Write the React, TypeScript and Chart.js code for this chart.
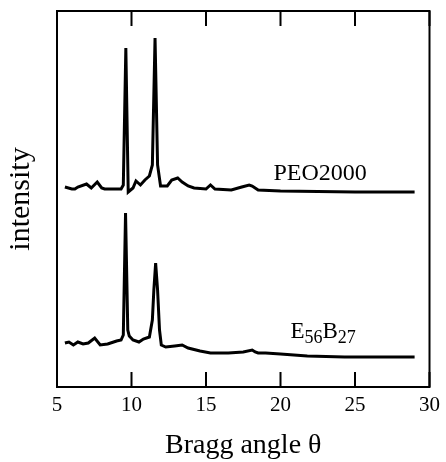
import React, { useEffect, useRef } from "react";
import { Chart, registerables } from "chart.js";

Chart.register(...registerables);

const xTicks = [5, 10, 15, 20, 25, 30];

const peoTheta = [5.53, 6.0, 6.2, 6.4, 6.98, 7.3, 7.7, 8.0, 8.2, 9.3, 9.45, 9.62, 9.78, 10.1, 10.3, 10.6, 10.9, 11.2, 11.4, 11.58, 11.75, 11.95, 12.4, 12.7, 13.1, 13.4, 13.8, 14.2, 15.0, 15.3, 15.6, 16.7, 17.4, 17.9, 18.1, 18.5, 20, 25, 29];
const peoIntensity = [200, 198, 198, 200, 203, 199, 205, 199, 198, 198, 202, 339, 195, 199, 206, 202, 207, 211, 222, 349, 222, 201, 201, 207, 209, 205, 201, 199, 198, 202, 198, 197, 200, 202, 201, 197, 196, 195, 195];

const ebTheta = [5.53, 5.8, 6.1, 6.4, 6.75, 7.1, 7.53, 7.9, 8.4, 9.0, 9.3, 9.45, 9.6, 9.75, 9.85, 10.1, 10.5, 10.8, 11.2, 11.4, 11.5, 11.62, 11.75, 11.88, 12.0, 12.3, 12.9, 13.4, 13.8, 14.6, 15.3, 16.5, 17.5, 18.1, 18.3, 18.5, 19.0, 20, 21.8, 24.3, 29];
const ebIntensity = [44, 45, 42, 45, 43, 44, 49, 42, 43, 46, 47, 52, 174, 57, 51, 47, 45, 48, 50, 67, 97, 124, 97, 57, 42, 40, 41, 42, 39, 36, 34, 34, 35, 37, 35, 34, 34, 33, 31, 30, 30];

const FONT = "'Liberation Serif', 'Times New Roman', serif";

const framePlugin = {
  id: "frame",
  afterDraw(chart: any) {
    const { ctx, chartArea: a, scales } = chart;
    const xs = scales.x;
    const ys = scales.y;
    ctx.save();
    ctx.strokeStyle = "#000";
    ctx.lineWidth = 2;
    ctx.strokeRect(a.left, a.top, a.right - a.left, a.bottom - a.top);
    ctx.beginPath();
    xTicks.forEach((v) => {
      const px = xs.getPixelForValue(v);
      ctx.moveTo(px, a.bottom);
      ctx.lineTo(px, a.bottom - 15);
      ctx.moveTo(px, a.top);
      ctx.lineTo(px, a.top + 15);
    });
    ctx.stroke();
    ctx.fillStyle = "#000";
    ctx.textBaseline = "alphabetic";
    ctx.textAlign = "left";
    ctx.font = `24px ${FONT}`;
    ctx.fillText("PEO2000", xs.getPixelForValue(19.53), ys.getPixelForValue(207));
    let x = xs.getPixelForValue(20.67);
    const y = ys.getPixelForValue(49);
    const parts: [string, boolean][] = [["E", false], ["56", true], ["B", false], ["27", true]];
    parts.forEach(([t, sub]) => {
      ctx.font = sub ? `18px ${FONT}` : `23px ${FONT}`;
      ctx.fillText(t, x, sub ? y + 5 : y);
      x += ctx.measureText(t).width;
    });
    ctx.restore();
  },
};

export default function App() {
  const ref = useRef<HTMLCanvasElement | null>(null);
  useEffect(() => {
    document.body.style.margin = "0";
    const toPts = (xs: number[], ys: number[]) => xs.map((v, i) => ({ x: v, y: ys[i] }));
    const chart = new Chart(ref.current as HTMLCanvasElement, {
      type: "line",
      data: {
        datasets: [
          {
            label: "PEO2000",
            data: toPts(peoTheta, peoIntensity),
            borderColor: "#000",
            borderWidth: 3,
            pointRadius: 0,
            tension: 0,
            fill: false,
          },
          {
            label: "E56B27",
            data: toPts(ebTheta, ebIntensity),
            borderColor: "#000",
            borderWidth: 3,
            pointRadius: 0,
            tension: 0,
            fill: false,
          },
        ],
      },
      options: {
        animation: false,
        responsive: false,
        layout: { padding: { top: 11, right: 15, left: 0, bottom: 0 } },
        plugins: { legend: { display: false }, tooltip: { enabled: false } },
        scales: {
          x: {
            type: "linear",
            min: 5,
            max: 30,
            afterBuildTicks: (s: any) => {
              s.ticks = xTicks.map((v) => ({ value: v }));
            },
            grid: { display: false, drawTicks: false },
            border: { display: false },
            ticks: {
              color: "#000",
              font: { family: FONT, size: 21 },
              padding: 6,
              maxRotation: 0,
            },
            title: {
              display: true,
              text: "Bragg angle θ",
              color: "#000",
              font: { family: FONT, size: 28 },
              padding: { top: 18, bottom: 0 },
            },
            afterFit: (s: any) => {
              s.height = 75;
            },
          },
          y: {
            type: "linear",
            min: 0,
            max: 376,
            grid: { display: false, drawTicks: false },
            border: { display: false },
            ticks: { display: false },
            title: {
              display: true,
              text: "intensity",
              color: "#000",
              font: { family: FONT, size: 30 },
              padding: { top: 3, bottom: 0 },
            },
            afterFit: (s: any) => {
              s.width = 57;
            },
          },
        },
      },
      plugins: [framePlugin],
    });
    return () => chart.destroy();
  }, []);
  return <canvas ref={ref} width={446} height={462} style={{ display: "block" }} />;
}
